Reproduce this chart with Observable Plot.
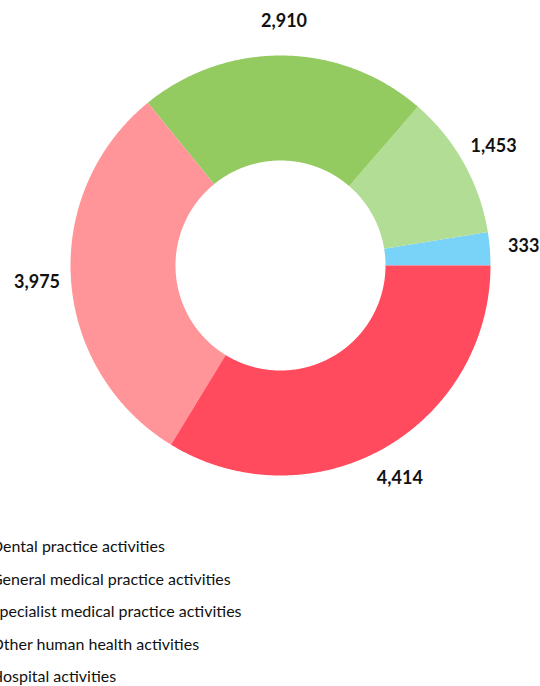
<!DOCTYPE html>
<html>
<head>
<meta charset="utf-8">
<script src="https://cdn.jsdelivr.net/npm/d3@7"></script>
<script src="https://cdn.jsdelivr.net/npm/@observablehq/plot@0.6"></script>
<style>
  html, body { margin: 0; padding: 0; background: #fff; overflow: hidden; }
  body { width: 540px; height: 686px; font-family: Lato, "Open Sans", sans-serif; }
  #legend { position: relative; margin-left: -9px; margin-top: 5px; }
  .item { height: 32.5px; line-height: 32.5px; font-size: 16px; color: #111; white-space: nowrap; position: relative; }
  .sw { position: absolute; left: -30px; top: 10px; width: 12px; height: 12px; border-radius: 50%; }
</style>
</head>
<body>
<div id="chart"></div>
<div id="legend"></div>
<script>
const categories = [
  "Dental practice activities",
  "General medical practice activities",
  "Specialist medical practice activities",
  "Other human health activities",
  "Hospital activities"
];
const values = [333, 1453, 2910, 3975, 4414];
const colors = ["#79D2F7", "#B2DD95", "#94CB60", "#FF9599", "#FF4B5D"];

const rows = categories.map((c, i) => ({cat: c, value: values[i]}));
const arcs = d3.pie().sort(null).value(d => d.value)
  .startAngle(Math.PI / 2).endAngle(Math.PI / 2 - 2 * Math.PI)(rows);

const R = 210, r0 = 105, rLabel = 244;
const pts = [];
for (const a of arcs) {
  const n = Math.max(8, Math.ceil(Math.abs(a.endAngle - a.startAngle) / 0.005));
  const ring = [];
  for (let k = 0; k <= n; k++) {
    const t = a.startAngle + (a.endAngle - a.startAngle) * k / n;
    ring.push({cat: a.data.cat, x: R * Math.sin(t), y: -R * Math.cos(t)});
  }
  for (let k = n; k >= 0; k--) {
    const t = a.startAngle + (a.endAngle - a.startAngle) * k / n;
    ring.push({cat: a.data.cat, x: r0 * Math.sin(t), y: -r0 * Math.cos(t)});
  }
  pts.push(...ring);
}
const labels = arcs.map(a => {
  const m = (a.startAngle + a.endAngle) / 2;
  return {cat: a.data.cat, value: a.data.value, x: rLabel * Math.sin(m), y: -rLabel * Math.cos(m)};
});

const W = 540, H = 525, cx = 280, cy = 265;
const chart = Plot.plot({
  width: W, height: H,
  margin: 0,
  style: {fontFamily: "Lato, 'Open Sans', sans-serif", background: "#fff", overflow: "visible"},
  x: {domain: [-cx, W - cx], range: [0, W], axis: null},
  y: {domain: [-cy, H - cy], range: [0, H], axis: null},
  color: {domain: categories, range: colors},
  marks: [
    Plot.line(pts, {x: "x", y: "y", z: "cat", fill: "cat", stroke: null, curve: "linear"}),
    Plot.text(labels, {x: "x", y: "y", text: d => d3.format(",")(d.value), fontSize: 18, fontWeight: "bold", fill: "#111"})
  ]
});
document.getElementById("chart").appendChild(chart);

const lg = document.getElementById("legend");
categories.forEach((c, i) => {
  const it = document.createElement("div");
  it.className = "item";
  const sw = document.createElement("span");
  sw.className = "sw";
  sw.style.background = colors[i];
  it.appendChild(sw);
  it.appendChild(document.createTextNode(c));
  lg.appendChild(it);
});
</script>
</body>
</html>
